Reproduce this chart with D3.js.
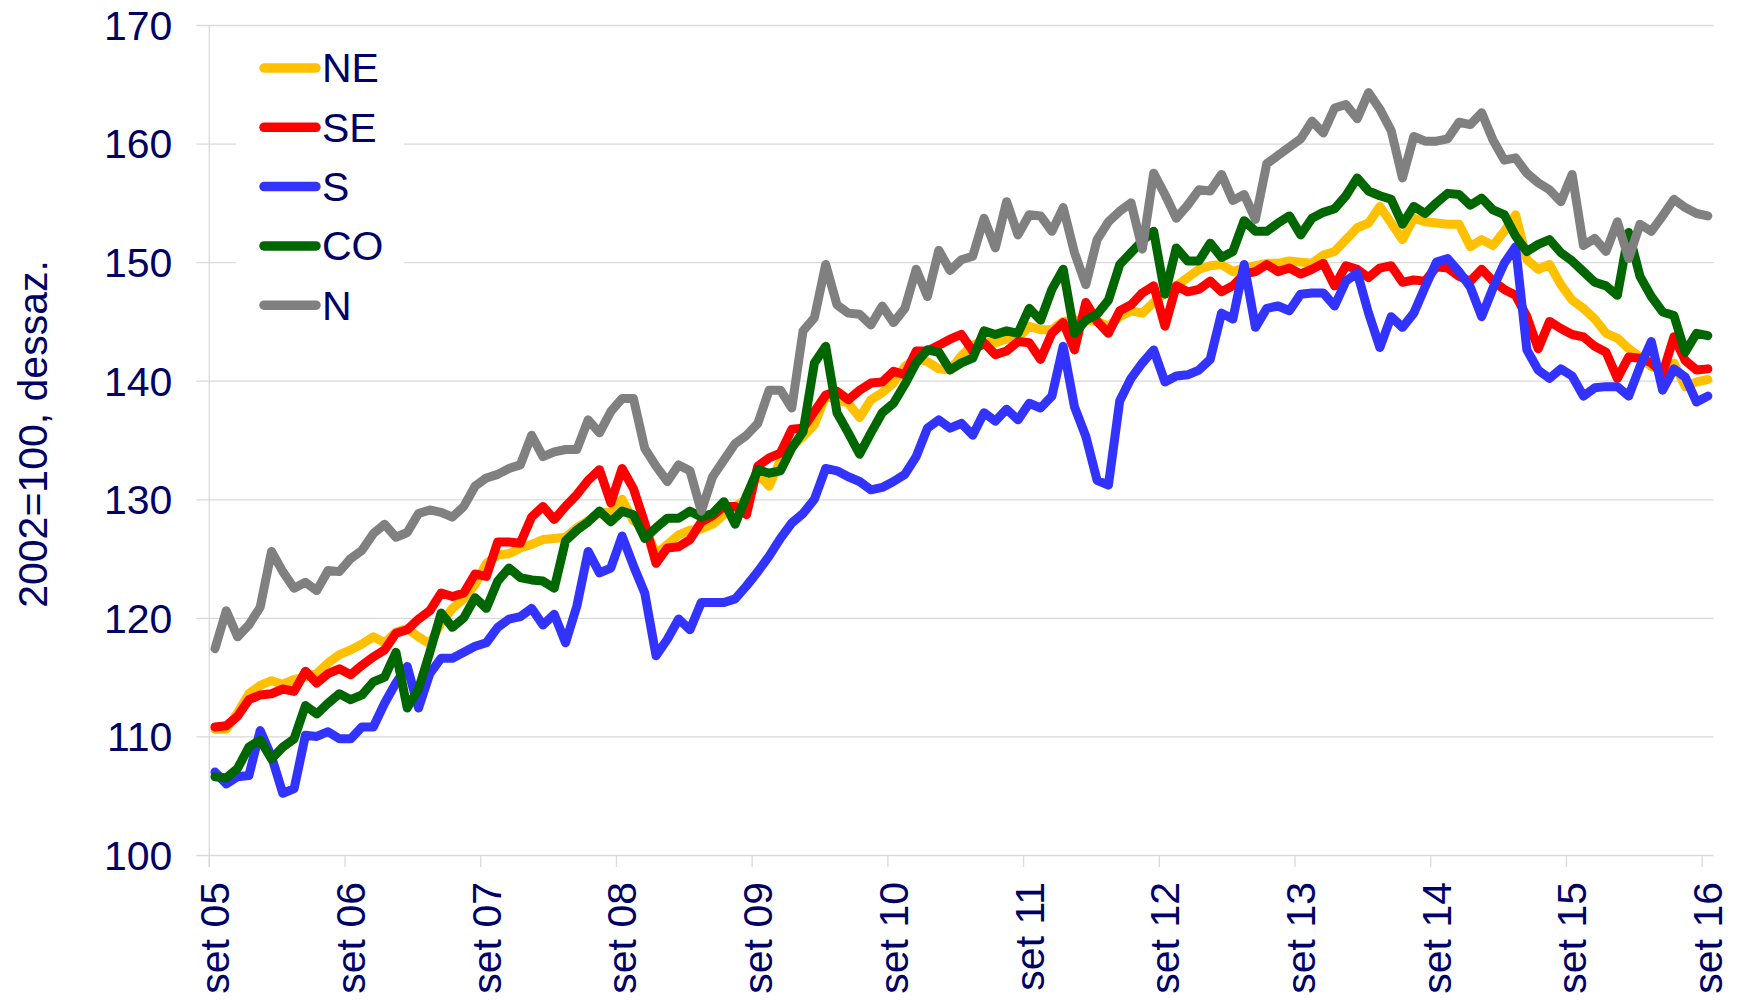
<!DOCTYPE html>
<html>
<head>
<meta charset="utf-8">
<script src="https://cdn.jsdelivr.net/npm/d3@7"></script>
<style>
  body { margin: 0; background: #fff; }
  svg text { font-family: "Liberation Sans", Arial, sans-serif; fill: #000066; }
</style>
</head>
<body>
<div id="chart"></div>
<script>
// monthly categories, set 05 .. set 16
const monthNames = ["jan", "fev", "mar", "abr", "mai", "jun", "jul", "ago", "set", "out", "nov", "dez"];
const months = d3.timeMonth.range(new Date(2005, 8, 1), new Date(2016, 9, 1));
const categories = months.map((d) => `${monthNames[d.getMonth()]} ${String(d.getFullYear()).slice(2)}`);

const tickLabels = ["set 05", "set 06", "set 07", "set 08", "set 09", "set 10",
  "set 11", "set 12", "set 13", "set 14", "set 15", "set 16"];
const yTicks = [100, 110, 120, 130, 140, 150, 160, 170];
const yTitle = "2002=100, dessaz.";

const seriesNames = ["NE", "SE", "S", "CO", "N"];
const seriesColors = ["#FFC000", "#FF0000", "#3333FF", "#006600", "#808080"];

const NE = [
  110.6, 110.6, 112.0, 113.6, 114.3, 114.7, 114.4, 114.8, 115.0, 115.3,
  116.2, 116.9, 117.3, 117.8, 118.4, 117.9, 118.8, 119.1, 118.4, 117.8,
  119.6, 120.8, 121.6, 122.8, 124.6, 125.3, 125.4, 125.9, 126.2, 126.6,
  126.7, 126.8, 127.6, 128.2, 128.9, 128.9, 130.0, 128.2, 127.6, 125.4,
  126.2, 127.0, 127.4, 127.5, 127.9, 128.7, 129.4, 130.0, 132.2, 131.1,
  133.3, 134.5, 135.3, 136.3, 138.7, 138.4, 138.1, 136.9, 138.4, 139.0,
  139.8, 141.2, 141.9, 141.6, 141.0, 140.9, 142.1, 143.0, 143.3, 143.2,
  143.5, 143.6, 144.6, 144.3, 144.3, 145.0, 145.1, 145.1, 145.0, 144.6,
  145.4, 145.9, 145.7, 146.6, 147.4, 148.0, 148.7, 149.4, 149.7, 149.8,
  149.2, 149.5, 149.7, 149.9, 149.9, 150.1, 150.0, 149.9, 150.6, 150.9,
  151.9, 152.9, 153.3, 154.7, 153.3, 151.9, 153.7, 153.4, 153.3, 153.2,
  153.2, 151.3, 151.9, 151.4, 152.6, 154.0, 150.2, 149.4, 149.8, 148.1,
  146.8, 146.1, 145.2, 144.0, 143.6, 142.7, 142.0, 141.2, 141.0, 141.5,
  139.5, 139.9, 140.1
];
const SE = [
  110.8, 110.9, 111.7, 113.1, 113.5, 113.6, 114.0, 113.8, 115.5, 114.5,
  115.3, 115.7, 115.2, 116.0, 116.7, 117.3, 118.7, 119.0, 119.9, 120.6,
  122.1, 121.8, 122.1, 123.7, 123.5, 126.4, 126.4, 126.3, 128.5, 129.4,
  128.3, 129.4, 130.4, 131.6, 132.5, 129.7, 132.6, 130.9, 128.0, 124.6,
  125.9, 126.0, 126.6, 128.1, 128.6, 129.4, 129.4, 128.7, 132.8, 133.5,
  133.9, 135.9, 136.0, 137.4, 138.8, 139.1, 138.4, 139.2, 139.8, 139.9,
  140.8, 140.5, 142.5, 142.5, 143.0, 143.5, 143.9, 142.5, 143.2, 142.2,
  142.5, 143.3, 143.2, 141.8, 144.0, 144.9, 142.6, 146.6, 145.0, 144.0,
  145.9, 146.4, 147.4, 148.0, 144.6, 148.0, 147.5, 147.7, 148.4, 147.5,
  148.0, 149.0, 149.2, 149.8, 149.2, 149.5, 149.0, 149.4, 149.9, 148.0,
  149.7, 149.4, 148.7, 149.5, 149.7, 148.3, 148.5, 148.4, 149.6, 149.5,
  148.8, 148.4, 149.4, 148.4, 147.7, 147.2, 145.4, 142.7, 145.0, 144.4,
  143.9, 143.7, 142.9, 142.4, 140.2, 142.0, 141.9, 141.5, 140.6, 143.7,
  141.7, 140.9, 141.0
];
const S = [
  107.0, 106.0, 106.6, 106.7, 110.5, 108.3, 105.2, 105.6, 110.1, 110.0,
  110.4, 109.8, 109.8, 110.8, 110.8, 112.8, 114.5, 115.9, 112.4, 115.3,
  116.6, 116.6, 117.1, 117.6, 117.9, 119.2, 119.9, 120.1, 120.8, 119.4,
  120.3, 117.9, 121.0, 125.6, 123.8, 124.2, 126.9, 124.4, 122.1, 116.8,
  118.2, 119.9, 119.0, 121.3, 121.3, 121.3, 121.6, 122.7, 123.9, 125.2,
  126.7, 128.0, 128.8, 130.0, 132.6, 132.4, 131.9, 131.5, 130.8, 131.0,
  131.5, 132.1, 133.6, 136.0, 136.7, 136.0, 136.4, 135.4, 137.3, 136.6,
  137.6, 136.7, 138.1, 137.7, 138.7, 142.9, 137.8, 135.3, 131.6, 131.2,
  138.3, 140.2, 141.5, 142.6, 139.9, 140.4, 140.5, 140.9, 141.8, 145.7,
  145.2, 149.8, 144.5, 146.1, 146.3, 145.9, 147.3, 147.4, 147.4, 146.3,
  148.4, 149.1, 145.7, 142.8, 145.4, 144.5, 145.7, 147.9, 150.0, 150.3,
  149.2, 147.9, 145.4, 147.8, 149.9, 151.3, 142.6, 140.9, 140.2, 141.0,
  140.4, 138.7, 139.4, 139.5, 139.5, 138.7, 141.2, 143.3, 139.2, 141.0,
  140.3, 138.2, 138.7
];
const CO = [
  106.6, 106.5, 107.3, 109.1, 109.7, 108.1, 109.1, 109.8, 112.6, 111.9,
  112.8, 113.6, 113.1, 113.5, 114.6, 115.0, 117.1, 112.4, 114.0, 117.1,
  120.4, 119.2, 120.0, 121.7, 120.8, 123.1, 124.2, 123.4, 123.2, 123.1,
  122.5, 126.5, 127.4, 128.1, 129.0, 128.1, 129.0, 128.7, 126.7, 127.6,
  128.4, 128.4, 129.0, 128.5, 128.8, 129.8, 127.9, 130.3, 132.5, 132.2,
  132.4, 134.3, 135.7, 141.5, 142.9, 137.3, 135.6, 133.8, 135.6, 137.3,
  138.1, 139.7, 141.5, 142.6, 142.4, 140.9, 141.5, 141.9, 144.2, 143.9,
  144.2, 144.0, 146.1, 145.1, 147.7, 149.4, 144.0, 145.1, 145.6, 146.8,
  149.8, 150.8, 151.8, 152.6, 147.3, 151.2, 150.1, 150.1, 151.6, 150.4,
  150.9, 153.5, 152.6, 152.6, 153.3, 153.9, 152.3, 153.7, 154.2, 154.5,
  155.6, 157.1, 156.0, 155.6, 155.3, 153.2, 154.7, 154.1, 155.0, 155.8,
  155.7, 154.8, 155.4, 154.4, 154.0, 152.2, 150.9, 151.5, 151.9, 150.8,
  150.1, 149.2, 148.3, 148.0, 147.2, 152.5, 148.8, 147.1, 145.8, 145.5,
  142.4, 144.0, 143.8
];
const N = [
  117.4, 120.6, 118.4, 119.4, 120.9, 125.6, 123.9, 122.5, 123.0, 122.3,
  124.0, 123.9, 125.0, 125.7, 127.1, 127.9, 126.8, 127.2, 128.8, 129.1,
  128.9, 128.5, 129.4, 131.1, 131.8, 132.1, 132.6, 132.9, 135.4, 133.6,
  134.0, 134.2, 134.2, 136.7, 135.6, 137.4, 138.5, 138.5, 134.3, 132.8,
  131.5, 132.9, 132.4, 129.0, 131.9, 133.3, 134.7, 135.4, 136.4, 139.2,
  139.2, 137.7, 144.2, 145.3, 149.8, 146.4, 145.7, 145.6, 144.7, 146.3,
  144.9, 146.1, 149.4, 147.1, 151.0, 149.3, 150.2, 150.5, 153.7, 151.2,
  155.1, 152.3, 154.0, 153.9, 152.6, 154.6, 150.8, 148.1, 151.9, 153.4,
  154.3, 155.0, 151.1, 157.5, 155.7, 153.7, 154.8, 156.1, 156.0, 157.4,
  155.2, 155.7, 153.6, 158.3, 159.0, 159.7, 160.4, 161.9, 160.9, 163.0,
  163.3, 162.1, 164.3, 162.9, 161.1, 157.1, 160.6, 160.2, 160.2, 160.4,
  161.8, 161.6, 162.6, 160.3, 158.6, 158.8, 157.5, 156.7, 156.1, 155.1,
  157.4, 151.4, 152.0, 150.9, 153.4, 150.3, 153.2, 152.6, 153.9, 155.3,
  154.6, 154.1, 153.9
];

const seriesValues = [NE, SE, S, CO, N];

// Set up dimensions
const width = 1738;
const height = 1000;
const plot = { left: 209.3, right: 1713.5, top: 25, bottom: 855 };
const fontSize = 41;

const svg = d3
  .select("#chart")
  .append("svg")
  .attr("width", width)
  .attr("height", height)
  .style("background", "#fff");

// Scales
const x = d3.scaleBand().domain(categories).range([plot.left, plot.right]).padding(0);
const y = d3.scaleLinear().domain([100, 170]).range([plot.bottom, plot.top]);
const cx = (c) => x(c) + x.bandwidth() / 2;

// Y axis with gridlines
const yAxis = svg
  .append("g")
  .attr("transform", `translate(${plot.left - 13},0)`)
  .call(
    d3.axisLeft(y)
      .tickValues(yTicks)
      .tickSizeInner(-(plot.right - plot.left + 13))
      .tickSizeOuter(0)
      .tickPadding(24)
  );
yAxis.select(".domain").remove();
yAxis.selectAll(".tick line").attr("stroke", "#d9d9d9").attr("stroke-width", 1.3);
yAxis.selectAll(".tick text")
  .attr("font-size", fontSize)
  .attr("font-family", "Liberation Sans, Arial, sans-serif")
  .attr("fill", "#000066")
  .attr("dy", "0.35em");

// vertical axis line
svg.append("line")
  .attr("x1", plot.left).attr("x2", plot.left)
  .attr("y1", plot.top).attr("y2", plot.bottom + 12)
  .attr("stroke", "#d9d9d9").attr("stroke-width", 1.3);

// X axis: tick marks at start of each september, labels at its centre
svg.append("g")
  .selectAll("line")
  .data(tickLabels)
  .enter()
  .append("line")
  .attr("x1", (d) => x(d)).attr("x2", (d) => x(d))
  .attr("y1", plot.bottom).attr("y2", plot.bottom + 12)
  .attr("stroke", "#d9d9d9").attr("stroke-width", 1.3);

const xAxis = svg
  .append("g")
  .attr("transform", `translate(0,${plot.bottom})`)
  .call(d3.axisBottom(x).tickValues(tickLabels).tickSize(0));
xAxis.select(".domain").remove();
xAxis.selectAll(".tick text")
  .attr("font-size", fontSize)
  .attr("font-family", "Liberation Sans, Arial, sans-serif")
  .attr("fill", "#000066")
  .attr("text-anchor", "end")
  .attr("transform", "rotate(-90)")
  .attr("x", -27)
  .attr("y", 0)
  .attr("dy", "0.35em");

// Y axis title
svg.append("text")
  .attr("transform", "translate(33,434) rotate(-90)")
  .attr("text-anchor", "middle")
  .attr("dy", "0.35em")
  .attr("font-size", fontSize)
  .text(yTitle);

// Lines
const line = d3.line()
  .x((d, i) => cx(categories[i]))
  .y((d) => y(d));

svg.append("g")
  .selectAll("path")
  .data(seriesValues)
  .enter()
  .append("path")
  .attr("d", (d) => line(d))
  .attr("fill", "none")
  .attr("stroke", (d, i) => seriesColors[i])
  .attr("stroke-width", 9)
  .attr("stroke-linejoin", "round")
  .attr("stroke-linecap", "round");

// Legend
const legend = svg.append("g");
legend.append("rect")
  .attr("x", 236).attr("y", 38)
  .attr("width", 168).attr("height", 296)
  .attr("fill", "#fff");

const items = legend.selectAll(".item")
  .data(seriesNames)
  .enter()
  .append("g")
  .attr("class", "item")
  .attr("transform", (d, i) => `translate(0,${68 + i * 59.3})`);

items.append("line")
  .attr("x1", 264).attr("x2", 316)
  .attr("y1", 0).attr("y2", 0)
  .attr("stroke", (d, i) => seriesColors[i])
  .attr("stroke-width", 9.5)
  .attr("stroke-linecap", "round");

items.append("text")
  .attr("x", 322)
  .attr("dy", "0.35em")
  .attr("font-size", fontSize)
  .text((d) => d);
</script>
</body>
</html>
